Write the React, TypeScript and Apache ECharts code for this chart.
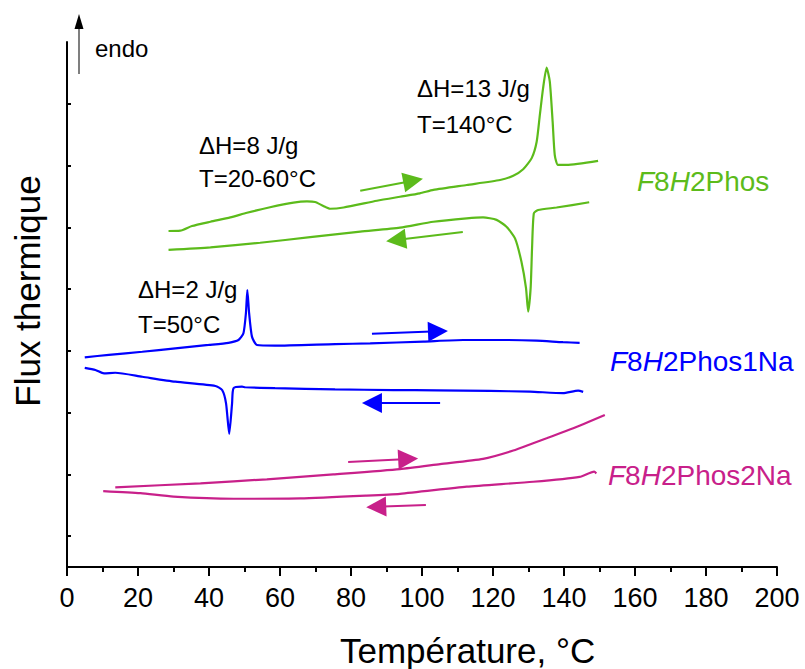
import React, { useEffect, useRef } from 'react';
import * as echarts from 'echarts';

const FONT = '"Liberation Sans", Arial, Helvetica, sans-serif';
const GREEN = '#5CBB1B';
const BLUE = '#0000FF';
const MAGENTA = '#C8208A';

const xTicks = [0, 20, 40, 60, 80, 100, 120, 140, 160, 180, 200];
const yTickValues = [1, 3, 5, 7, 9, 11, 13, 15];

// F8H2Phos heating (upper) and cooling (lower)
const phosHeat: [number, number][] = [
  [28.6, 10.88], [31.9, 10.89], [35.2, 11.04], [40.4, 11.18], [46.0, 11.32], [50.7, 11.47],
  [57.2, 11.65], [63.8, 11.8], [67.6, 11.84], [69.9, 11.82], [72.2, 11.69], [74.1, 11.6],
  [77.9, 11.64], [87.3, 11.86], [93.8, 11.99], [99.4, 12.1], [103.2, 12.21], [112.6, 12.37],
  [122.0, 12.53], [125.7, 12.67], [128.5, 12.88], [130.9, 13.24], [132.3, 13.77], [133.2, 14.64],
  [134.1, 15.5], [135.1, 16.17], [136.0, 15.72], [136.8, 14.42], [137.4, 13.34], [138.3, 13.02],
  [140.7, 13.02], [149.6, 13.15],
];
const phosCool: [number, number][] = [
  [28.6, 10.27], [40.4, 10.35], [54.4, 10.5], [68.5, 10.68], [82.6, 10.86], [93.8, 10.99],
  [103.2, 11.18], [112.6, 11.29], [117.2, 11.32], [121.0, 11.24], [123.8, 11.02], [126.2, 10.64],
  [128.0, 9.89], [129.3, 9.03], [129.9, 8.27], [130.6, 9.03], [131.0, 10.32], [131.5, 11.45],
  [132.7, 11.56], [137.9, 11.64], [147.1, 11.81],
];

// F8H2Phos1Na
const na1Heat: [number, number][] = [
  [5.0, 6.79], [11.8, 6.87], [21.2, 6.97], [30.5, 7.08], [39.9, 7.19], [45.5, 7.26], [48.3, 7.35],
  [49.7, 7.57], [50.4, 8.22], [50.8, 8.97], [51.3, 8.22], [52.1, 7.46], [53.5, 7.19], [58.6, 7.17],
  [75.5, 7.22], [85.4, 7.24], [100.4, 7.3], [111.6, 7.35], [123.8, 7.35], [132.3, 7.33],
  [139.7, 7.28], [144.4, 7.26],
];
const na1Cool: [number, number][] = [
  [5.0, 6.45], [8.0, 6.38], [10.4, 6.27], [13.6, 6.29], [21.2, 6.16], [30.5, 6.0], [41.8, 5.86],
  [43.7, 5.73], [44.8, 5.3], [45.7, 4.31], [46.5, 5.3], [46.9, 5.79], [49.3, 5.84], [50.2, 5.82],
  [58.6, 5.79], [75.5, 5.75], [91.9, 5.73], [104.1, 5.72], [119.1, 5.7], [130.4, 5.68],
  [139.7, 5.63], [144.0, 5.71], [145.4, 5.67],
];

// F8H2Phos2Na
const na2Heat: [number, number][] = [
  [13.6, 2.58], [37.6, 2.71], [56.3, 2.84], [75.0, 3.0], [93.8, 3.17], [105.1, 3.33], [117.2, 3.5],
  [125.7, 3.77], [131.3, 4.01], [135.1, 4.17], [142.6, 4.49], [151.5, 4.92],
];
const na2Cool: [number, number][] = [
  [10.2, 2.46], [20.7, 2.39], [30.0, 2.28], [46.9, 2.21], [65.7, 2.22], [84.4, 2.31], [93.8, 2.37],
  [112.6, 2.6], [131.3, 2.76], [144.4, 2.92], [148.5, 3.09], [149.1, 3.03],
];

// direction arrows: [from, to]
const greenArrows: [number, number][][] = [
  [[82.6, 12.18], [97.5, 12.51]],
  [[111.5, 10.85], [92.7, 10.59]],
];
const blueArrows: [number, number][][] = [
  [[85.9, 7.55], [104.5, 7.63]],
  [[105.1, 5.31], [85.9, 5.31]],
];
const magentaArrows: [number, number][][] = [
  [[79.2, 3.4], [96.1, 3.5]],
  [[101.1, 2.01], [87.1, 1.95]],
];

const curve = (data: [number, number][], color: string) => ({
  type: 'line',
  data,
  showSymbol: false,
  symbol: 'none',
  smooth: 0.2,
  lineStyle: { color, width: 2.2 },
  itemStyle: { color },
  z: 3,
});

const arrowSeries = (arrs: [number, number][][], color: string) => ({
  type: 'lines',
  coordinateSystem: 'cartesian2d',
  data: arrs.map((a) => ({ coords: a })),
  symbol: ['none', 'triangle'],
  symbolSize: [11, 20],
  lineStyle: { color, width: 2, opacity: 1, curveness: 0 },
  itemStyle: { color },
  z: 4,
});

const txt = (x: number, y: number, text: string, fontSize: number, fill = '#000', extra: any = {}) => ({
  type: 'text',
  x,
  y,
  style: {
    text,
    fill,
    fontSize,
    fontFamily: FONT,
    align: 'left',
    verticalAlign: 'middle',
    ...extra,
  },
});

const seriesLabel = (x: number, y: number, rest: string, color: string) => ({
  type: 'text',
  x,
  y,
  style: {
    text: `{i|F}{n|8}{i|H}{n|${rest}}`,
    fill: color,
    fontSize: 28,
    fontFamily: FONT,
    align: 'left',
    verticalAlign: 'middle',
    rich: {
      i: { fontStyle: 'italic', fill: color, fontSize: 28, fontFamily: FONT },
      n: { fill: color, fontSize: 28, fontFamily: FONT },
    },
  },
});

export default function App() {
  const ref = useRef<HTMLDivElement>(null);
  useEffect(() => {
    if (!ref.current) return;
    const chart = echarts.init(ref.current, null, { renderer: 'svg' });
    chart.setOption({
      animation: false,
      backgroundColor: '#fff',
      grid: { left: 67, right: 28, top: 42, bottom: 102, containLabel: false },
      xAxis: {
        type: 'value',
        min: xTicks[0],
        max: xTicks[xTicks.length - 1],
        interval: 20,
        axisLine: { show: true, onZero: false, lineStyle: { color: '#000', width: 2 } },
        axisTick: { show: true, inside: false, length: 9, lineStyle: { color: '#000', width: 2 } },
        minorTick: { show: true, splitNumber: 2, length: 5, lineStyle: { color: '#000', width: 2 } },
        axisLabel: { color: '#000', fontSize: 27, fontFamily: FONT, margin: 17 },
        splitLine: { show: false },
      },
      yAxis: {
        type: 'value',
        min: 0,
        max: 17,
        axisLine: { show: true, onZero: false, lineStyle: { color: '#000', width: 2 } },
        axisTick: {
          show: true,
          inside: true,
          length: 4,
          customValues: yTickValues,
          lineStyle: { color: '#000', width: 2 },
        },
        axisLabel: { show: false },
        splitLine: { show: false },
      },
      series: [
        curve(phosHeat, GREEN),
        curve(phosCool, GREEN),
        curve(na1Heat, BLUE),
        curve(na1Cool, BLUE),
        curve(na2Heat, MAGENTA),
        curve(na2Cool, MAGENTA),
        arrowSeries(greenArrows, GREEN),
        arrowSeries(blueArrows, BLUE),
        arrowSeries(magentaArrows, MAGENTA),
      ],
      graphic: [
        { type: 'line', shape: { x1: 79, y1: 74, x2: 79, y2: 26 }, style: { stroke: '#555', lineWidth: 1.5 } },
        { type: 'polygon', shape: { points: [[79, 14], [74.5, 29], [83.5, 29]] }, style: { fill: '#000' } },
        txt(95, 48, 'endo', 24),
        txt(199, 145, 'ΔH=8 J/g', 24),
        txt(199, 178, 'T=20-60°C', 24),
        txt(417, 88, 'ΔH=13 J/g', 24),
        txt(417, 124, 'T=140°C', 24),
        txt(138, 289, 'ΔH=2 J/g', 24),
        txt(138, 324, 'T=50°C', 24),
        seriesLabel(637, 181, '2Phos', GREEN),
        seriesLabel(610, 361, '2Phos1Na', BLUE),
        seriesLabel(608, 475, '2Phos2Na', MAGENTA),
        txt(340, 650, 'Température, °C', 35),
        {
          type: 'text',
          x: 27,
          y: 291,
          rotation: Math.PI / 2,
          style: {
            text: 'Flux thermique',
            fill: '#000',
            fontSize: 35,
            fontFamily: FONT,
            align: 'center',
            verticalAlign: 'middle',
          },
        },
      ],
    });
    return () => chart.dispose();
  }, []);
  return <div ref={ref} style={{ position: 'fixed', left: 0, top: 0, width: 805, height: 669 }} />;
}
